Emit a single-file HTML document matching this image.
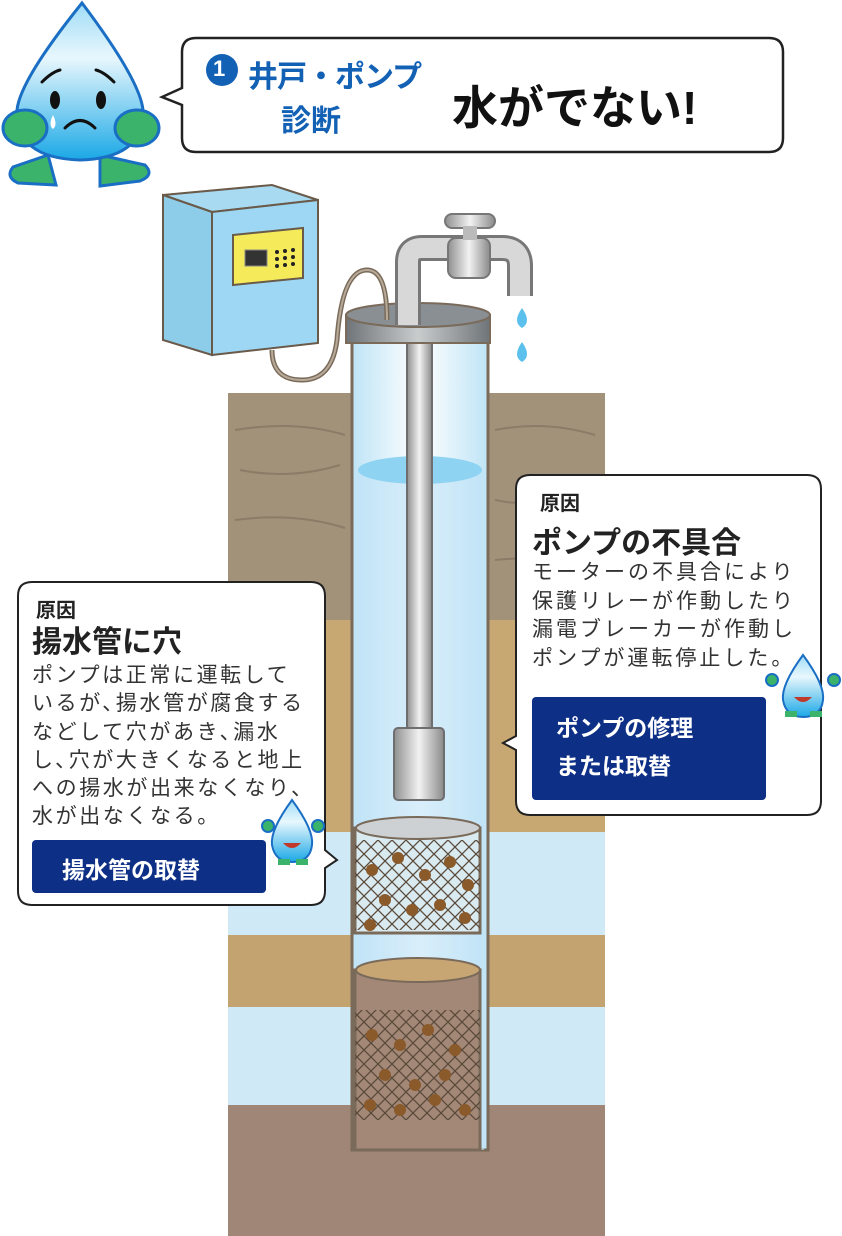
<!DOCTYPE html>
<html><head><meta charset="utf-8"><style>
html,body{margin:0;padding:0;background:#fff;}
body{width:842px;height:1236px;position:relative;overflow:hidden;font-family:"Liberation Sans","Noto Sans CJK JP",sans-serif;}
svg{position:absolute;left:0;top:0;}
.t{position:absolute;white-space:nowrap;}
</style></head><body>
<svg width="842" height="1236" viewBox="0 0 842 1236">
<defs>
<linearGradient id="drop" x1="0" y1="0" x2="0" y2="1"><stop offset="0" stop-color="#9fdcf6"/><stop offset="0.35" stop-color="#e8f7fd"/><stop offset="1" stop-color="#1aa8e6"/></linearGradient>
<linearGradient id="pipe" x1="0" x2="1"><stop offset="0" stop-color="#8f8f8f"/><stop offset="0.5" stop-color="#f2f2f2"/><stop offset="1" stop-color="#8a8a8a"/></linearGradient>
<linearGradient id="cap" x1="0" x2="1"><stop offset="0" stop-color="#6f7478"/><stop offset="0.5" stop-color="#c9cccd"/><stop offset="1" stop-color="#6f7478"/></linearGradient>
<linearGradient id="well" x1="0" x2="1"><stop offset="0" stop-color="#bfe4f6"/><stop offset="0.5" stop-color="#ffffff"/><stop offset="1" stop-color="#bfe4f6"/></linearGradient>
<pattern id="mesh" width="14" height="14" patternUnits="userSpaceOnUse"><path d="M0 0L14 14M14 0L0 14" stroke="#5a4a3a" stroke-width="1.3"/></pattern>
</defs>
<rect x="228" y="393" width="377" height="227" fill="#a3927a"/>
<rect x="228" y="620" width="377" height="212" fill="#c7a872"/>
<rect x="228" y="832" width="377" height="103" fill="#cfe9f6"/>
<rect x="228" y="935" width="377" height="72" fill="#c3a470"/>
<rect x="228" y="1007" width="377" height="98" fill="#cfe9f6"/>
<rect x="228" y="1105" width="377" height="131" fill="#a08676"/>
<g stroke="#7d6c58" stroke-width="2" fill="none" opacity="0.6">
<path d="M235 430q60 -10 110 5M240 470q50 10 100 -5M235 520q60 -8 110 8M495 430q50 -10 100 5M495 500q50 10 100 -5M495 560q50 -5 100 5"/>
</g>
<rect x="352" y="330" width="136" height="820" fill="url(#well)" stroke="#7a6a5a" stroke-width="3"/>
<rect x="356" y="470" width="128" height="680" fill="#bfe3f6" opacity="0.6"/>
<ellipse cx="420" cy="470" rx="62" ry="14" fill="#8fd3f3"/>
<rect x="355" y="970" width="125" height="180" fill="#a38878" stroke="#7a6a5a" stroke-width="3"/>
<rect x="355" y="1010" width="125" height="110" fill="url(#mesh)"/>
<ellipse cx="418" cy="970" rx="62" ry="12" fill="#c8a674" stroke="#7a6a5a" stroke-width="2"/>
<rect x="355" y="828" width="125" height="105" fill="#d9eaf1" stroke="#7a6a5a" stroke-width="3"/>
<rect x="355" y="840" width="125" height="90" fill="url(#mesh)"/>
<ellipse cx="418" cy="828" rx="62" ry="11" fill="#cdd1d3" stroke="#7a6a5a" stroke-width="2"/>
<g fill="#8b5a2b">
<circle cx="372" cy="870" r="6"/><circle cx="398" cy="858" r="6"/><circle cx="425" cy="875" r="6"/><circle cx="450" cy="862" r="6"/><circle cx="468" cy="885" r="6"/><circle cx="385" cy="900" r="6"/><circle cx="412" cy="910" r="6"/><circle cx="440" cy="905" r="6"/><circle cx="465" cy="918" r="6"/><circle cx="370" cy="925" r="6"/>
<circle cx="372" cy="1035" r="6"/><circle cx="400" cy="1045" r="6"/><circle cx="428" cy="1030" r="6"/><circle cx="455" cy="1050" r="6"/><circle cx="385" cy="1075" r="6"/><circle cx="415" cy="1085" r="6"/><circle cx="445" cy="1075" r="6"/><circle cx="370" cy="1105" r="6"/><circle cx="400" cy="1110" r="6"/><circle cx="435" cy="1100" r="6"/><circle cx="465" cy="1110" r="6"/>
</g>
<rect x="407" y="335" width="25" height="400" fill="url(#pipe)" stroke="#6e6e6e" stroke-width="2"/>
<rect x="394" y="728" width="50" height="72" rx="4" fill="url(#pipe)" stroke="#6e6e6e" stroke-width="2"/>
<rect x="346" y="315" width="144" height="28" fill="url(#cap)" stroke="#7a6a5a" stroke-width="2"/>
<ellipse cx="418" cy="315" rx="72" ry="12" fill="#8a8f93" stroke="#7a6a5a" stroke-width="2"/>
<path d="M408 325V262q0-14 14-14h80q18 0 18 18v30" fill="none" stroke="#777" stroke-width="26"/>
<path d="M408 325V262q0-14 14-14h80q18 0 18 18v30" fill="none" stroke="#d8d8d8" stroke-width="20"/>
<rect x="448" y="238" width="42" height="40" rx="8" fill="url(#pipe)" stroke="#777" stroke-width="2"/>
<rect x="445" y="214" width="50" height="14" rx="7" fill="url(#pipe)" stroke="#777" stroke-width="2"/>
<rect x="463" y="226" width="14" height="14" fill="#bbb"/>
<path d="M522 308q-10 14 0 20q10-6 0-20z" fill="#5bc0ec"/>
<path d="M522 342q-10 14 0 20q10-6 0-20z" fill="#5bc0ec"/>
<path d="M272 350q0 30 30 30q30 0 35-40q5-70 30-70q20 0 20 50" fill="none" stroke="#7a6a5a" stroke-width="5"/>
<path d="M272 350q0 30 30 30q30 0 35-40q5-70 30-70q20 0 20 50" fill="none" stroke="#b8aa98" stroke-width="2"/>
<path d="M163 195L272 185L318 200L212 212Z" fill="#a8daf2" stroke="#6a5a4a" stroke-width="2"/>
<path d="M163 195L212 212V355L163 340Z" fill="#8ecde9" stroke="#6a5a4a" stroke-width="2"/>
<path d="M212 212L318 200V343L212 355Z" fill="#9dd7f3" stroke="#6a5a4a" stroke-width="2"/>
<path d="M233 235L303 228V278L233 285Z" fill="#f5ea5a" stroke="#6a5a4a" stroke-width="2"/>
<rect x="245" y="250" width="22" height="16" fill="#333" stroke="#888"/>
<g fill="#222"><circle cx="277" cy="252" r="2"/><circle cx="285" cy="251" r="2"/><circle cx="293" cy="250" r="2"/><circle cx="277" cy="259" r="2"/><circle cx="285" cy="258" r="2"/><circle cx="293" cy="257" r="2"/><circle cx="277" cy="266" r="2"/><circle cx="285" cy="265" r="2"/><circle cx="293" cy="264" r="2"/></g>
<path d="M48 155l-35 12q-8 10 5 16l38 2zM100 155l45 10q10 10-5 16l-40 5z" fill="#3bb36a" stroke="#1a6fc4" stroke-width="3"/>
<path d="M82 3Q20 80 17 110Q15 158 80 160Q145 158 143 110Q140 80 82 3z" fill="url(#drop)" stroke="#1a6fc4" stroke-width="3"/>
<ellipse cx="25" cy="128" rx="22" ry="18" fill="#3bb36a" stroke="#1a6fc4" stroke-width="3"/>
<ellipse cx="137" cy="128" rx="22" ry="18" fill="#3bb36a" stroke="#1a6fc4" stroke-width="3"/>
<ellipse cx="55" cy="100" rx="5" ry="9" fill="#111"/><ellipse cx="101" cy="100" rx="5" ry="9" fill="#111"/>
<path d="M42 82q10-10 18-12M96 70q8 2 18 12M65 128q15-15 30 0" fill="none" stroke="#111" stroke-width="3" stroke-linecap="round"/>
<path d="M53 115q-5 10 0 14q5-4 0-14z" fill="#fff"/>
<path d="M196 38H769q14 0 14 14V138q0 14-14 14H196q-14 0-14-14V105L162 97L182 88V52q0-14 14-14z" fill="#fff" stroke="#222" stroke-width="2.5"/>
<circle cx="222" cy="70" r="16" fill="#1361b5"/>
<path d="M32 582H311q14 0 14 14V850L337 860L325 868V891q0 14-14 14H32q-14 0-14-14V596q0-14 14-14z" fill="#fff" stroke="#222" stroke-width="2"/>
<rect x="32" y="840" width="234" height="53" rx="4" fill="#0d2f86"/>
<path d="M530 475H807q14 0 14 14V801q0 14-14 14H530q-14 0-14-14V750L503 743L516 736V489q0-14 14-14z" fill="#fff" stroke="#222" stroke-width="2"/>
<rect x="532" y="697" width="234" height="103" rx="4" fill="#0d2f86"/>
<g>
<path d="M292 800Q270 830 272 845Q275 862 292 862Q310 862 312 845Q314 830 292 800z" fill="url(#drop)" stroke="#1a6fc4" stroke-width="2"/>
<circle cx="268" cy="826" r="6" fill="#3bb36a" stroke="#1a6fc4" stroke-width="2"/><circle cx="318" cy="826" r="6" fill="#3bb36a" stroke="#1a6fc4" stroke-width="2"/>
<path d="M278 862h12M296 862h12" stroke="#3bb36a" stroke-width="6"/>
<path d="M283 843q9 10 18 0z" fill="#c0392b"/>
</g>
<g>
<path d="M803 655Q781 685 783 700Q786 717 803 717Q821 717 823 700Q825 685 803 655z" fill="url(#drop)" stroke="#1a6fc4" stroke-width="2"/>
<circle cx="772" cy="680" r="6" fill="#3bb36a" stroke="#1a6fc4" stroke-width="2"/><circle cx="834" cy="680" r="6" fill="#3bb36a" stroke="#1a6fc4" stroke-width="2"/>
<path d="M785 714h12M810 714h12" stroke="#3bb36a" stroke-width="6"/>
<path d="M794 697q9 10 18 0z" fill="#c0392b"/>
</g>
</svg>
<div class="t" style="left:213px;top:56px;font-size:22px;font-weight:bold;color:#fff;">1</div>
<div class="t" style="left:248px;top:52px;font-size:30px;font-weight:bold;color:#1361b5;letter-spacing:-1px;">井戸・ポンプ</div>
<div class="t" style="left:281px;top:96px;font-size:30px;font-weight:bold;color:#1361b5;">診断</div>
<div class="t" style="left:452px;top:72px;font-size:46px;font-weight:bold;color:#111;">水がでない!</div>
<div class="t" style="left:36px;top:594px;font-size:20px;font-weight:bold;color:#222;">原因</div>
<div class="t" style="left:32px;top:617px;font-size:30px;font-weight:bold;color:#222;">揚水管に穴</div>
<div class="t" style="left:32px;top:662px;font-size:21px;line-height:28.3px;letter-spacing:2.6px;color:#333;">ポンプは正常に運転して<br>いるが､揚水管が腐食する<br>などして穴があき､漏水<br>し､穴が大きくなると地上<br>への揚水が出来なくなり､<br>水が出なくなる。</div>
<div class="t" style="left:62px;top:851px;font-size:23px;font-weight:bold;color:#fff;">揚水管の取替</div>
<div class="t" style="left:540px;top:487px;font-size:20px;font-weight:bold;color:#222;">原因</div>
<div class="t" style="left:532px;top:518px;font-size:30px;font-weight:bold;color:#222;">ポンプの不具合</div>
<div class="t" style="left:532px;top:559px;font-size:21px;line-height:28.5px;letter-spacing:3px;color:#333;">モーターの不具合により<br>保護リレーが作動したり<br>漏電ブレーカーが作動し<br>ポンプが運転停止した。</div>
<div class="t" style="left:556px;top:709px;font-size:23px;line-height:38px;font-weight:bold;color:#fff;">ポンプの修理<br>または取替</div>
</body></html>
